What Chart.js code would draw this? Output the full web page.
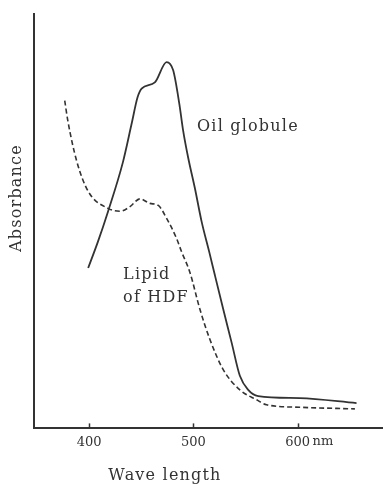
<!DOCTYPE html>
<html>
<head>
<meta charset="utf-8">
<script src="https://cdn.jsdelivr.net/npm/chart.js@4"></script>
<style>
  html, body { margin: 0; padding: 0; background: #fff; }
  #wrap { width: 383px; height: 484px; }
</style>
</head>
<body>
<div id="wrap"><canvas id="chart"></canvas></div>
<script>
// x axis ticks (nm)
const xTicks = [400, 500, 600];

// Oil globule - solid line
const oilNm  = [399, 408.3, 418, 432.3, 440.7, 446.4, 450.3, 463, 474.3, 480.6, 486.5, 490.2, 495, 501.4, 507.9, 515.2, 520.6, 528.6, 536.7, 544.6, 552.6, 562.2, 602, 656.6];
const oilAbs = [38.7, 45.0, 52.3, 64.2, 73.5, 79.9, 82.0, 83.5, 88.4, 86.4, 78.3, 71.8, 65.3, 58.0, 49.9, 42.6, 37.0, 28.8, 20.7, 12.7, 9.3, 7.8, 7.3, 6.1];

// Lipid of HDF - dashed line
const lipidNm  = [376.5, 379.5, 388, 399, 418, 430, 439.1, 448.7, 458.3, 466.3, 474.3, 483.9, 488.7, 496.6, 506.2, 515.8, 528.6, 544.6, 560.7, 570.2, 602, 655];
const lipidAbs = [79.1, 74.2, 64.5, 57.2, 53.1, 52.4, 53.5, 55.4, 54.3, 53.8, 50.7, 45.8, 42.6, 37.7, 28.8, 21.5, 14.2, 9.3, 6.9, 5.7, 5.1, 4.7];

const ink = '#333';
const serif = '"DejaVu Serif", serif';

const toPoints = (xs, ys) => xs.map((x, i) => ({ x: x, y: ys[i] }));

// labels, inner tick marks and axis titles
const extras = {
    id: 'extras',
    afterDraw(chart) {
        const c = chart.ctx;
        const xs = chart.scales.x, ys = chart.scales.y;
        const area = chart.chartArea;
        c.save();
        c.strokeStyle = ink;
        c.lineWidth = 1.5;
        xTicks.forEach(v => {
            const px = Math.round(xs.getPixelForValue(v)) + 0.5;
            c.beginPath();
            c.moveTo(px, area.bottom);
            c.lineTo(px, area.bottom - 5);
            c.stroke();
        });

        c.fillStyle = ink;
        c.font = '13px ' + serif;
        c.textBaseline = 'middle';
        c.textAlign = 'left';
        c.fillText('nm', xs.getPixelForValue(600) + 15, area.bottom + 13);

        c.font = '16px ' + serif;
        c.letterSpacing = '1.2px';
        c.fillText('Oil globule', xs.getPixelForValue(503.5), ys.getPixelForValue(72.7));
        c.fillText('Lipid', xs.getPixelForValue(432.5), ys.getPixelForValue(37.0));
        c.fillText('of HDF', xs.getPixelForValue(432.5), ys.getPixelForValue(31.6));

        c.textAlign = 'center';
        c.fillText('Wave length', 165, 476);
        c.translate(17, 198);
        c.rotate(-Math.PI / 2);
        c.fillText('Absorbance', 0, 0);
        c.restore();
    }
};

new Chart(document.getElementById('chart'), {
    type: 'line',
    data: {
        datasets: [{
            label: 'Oil globule',
            data: toPoints(oilNm, oilAbs),
            borderColor: ink,
            borderWidth: 1.8,
            pointRadius: 0,
            cubicInterpolationMode: 'monotone'
        }, {
            label: 'Lipid of HDF',
            data: toPoints(lipidNm, lipidAbs),
            borderColor: ink,
            borderWidth: 1.6,
            borderDash: [5, 3],
            pointRadius: 0,
            cubicInterpolationMode: 'monotone'
        }]
    },
    options: {
        responsive: true,
        maintainAspectRatio: false,
        animation: false,
        layout: { padding: { left: 34, top: 14, right: 0, bottom: 28 } },
        scales: {
            x: {
                type: 'linear',
                min: 347,
                max: 682,
                afterBuildTicks: s => { s.ticks = xTicks.map(v => ({ value: v })); },
                ticks: { color: ink, font: { family: serif, size: 13 }, padding: 6, maxRotation: 0 },
                grid: { display: false, drawTicks: false },
                border: { display: true, color: ink, width: 2 }
            },
            y: {
                min: 0,
                max: 100,
                ticks: { display: false },
                grid: { display: false, drawTicks: false },
                border: { display: true, color: ink, width: 2 }
            }
        },
        plugins: {
            legend: { display: false },
            tooltip: { enabled: false }
        }
    },
    plugins: [extras]
});
</script>
</body>
</html>
